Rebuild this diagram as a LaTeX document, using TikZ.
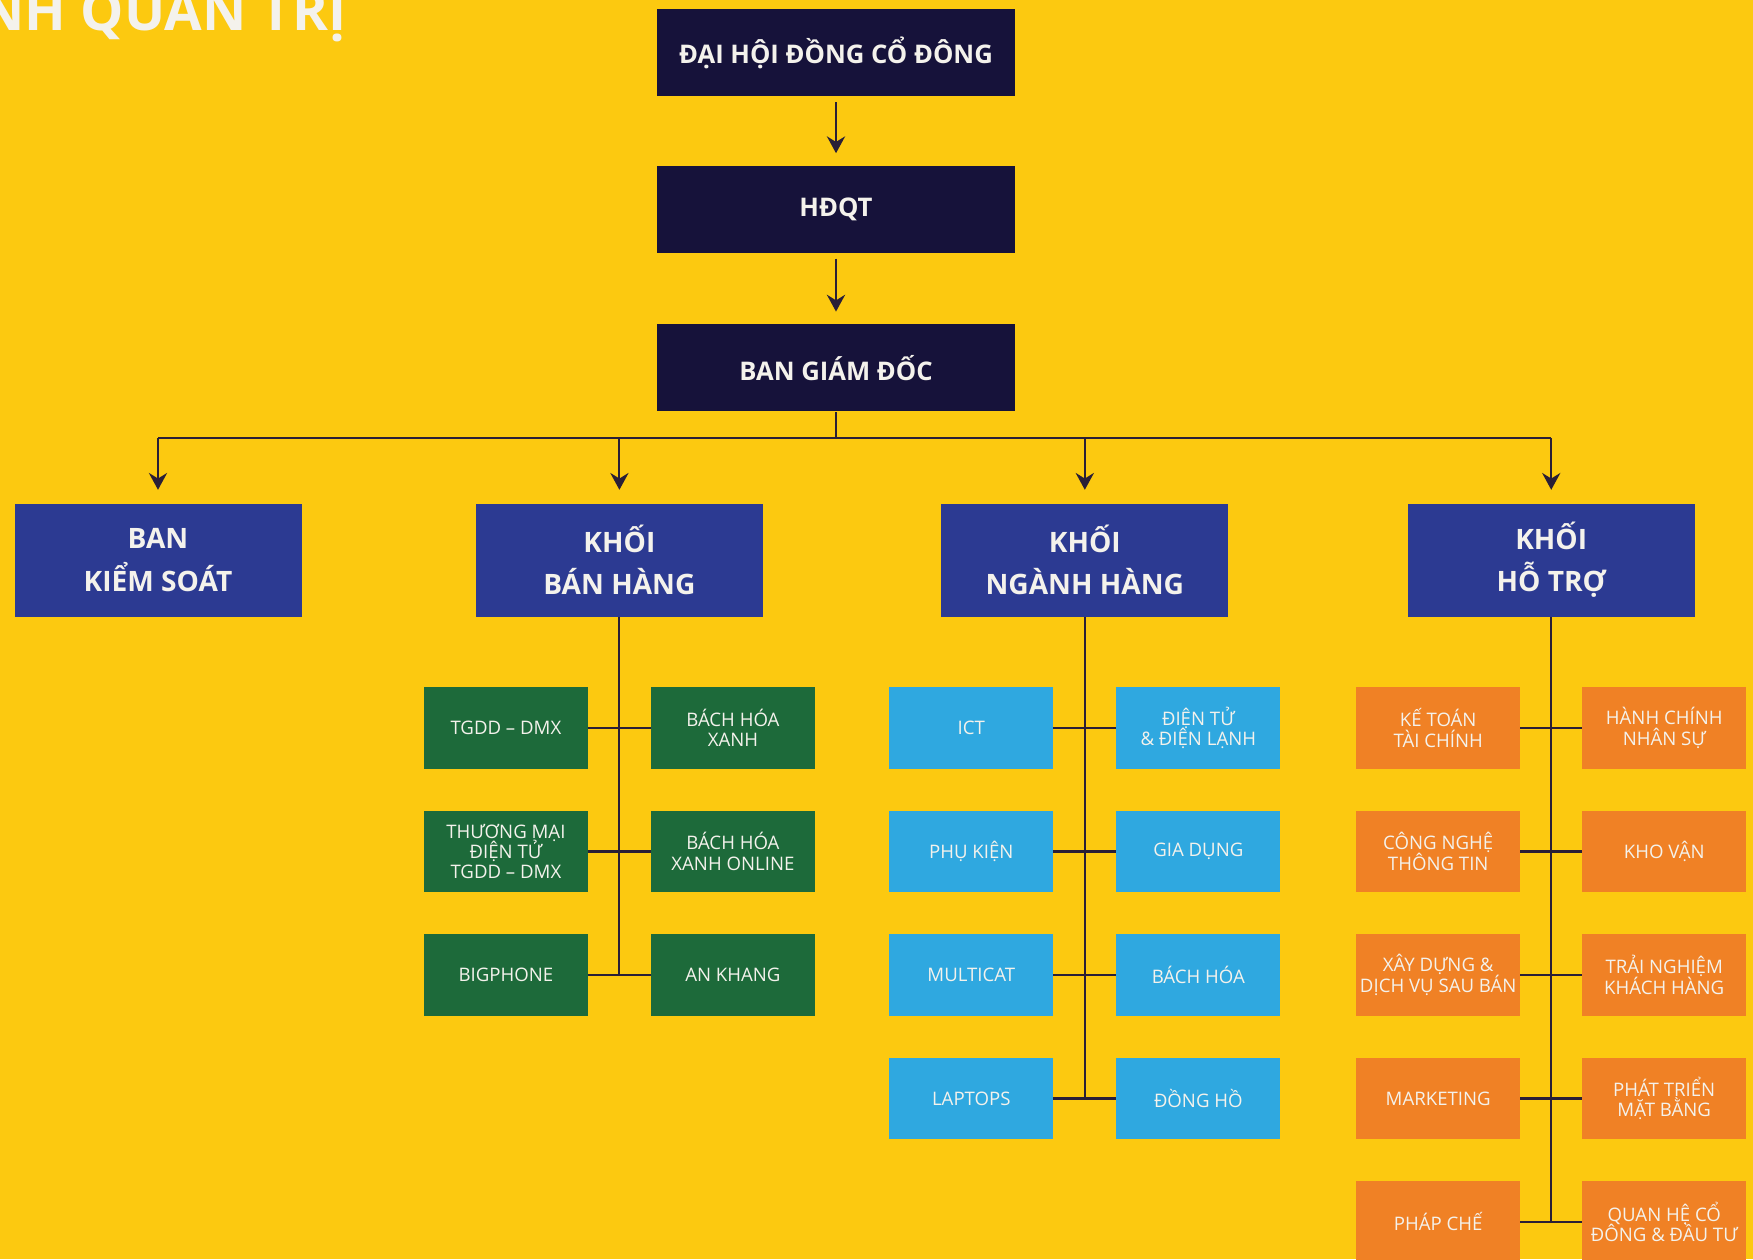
\documentclass[tikz,border=0pt]{standalone}
\usepackage{fontspec}
\setmainfont{Open Sans}
\usepackage{tikz}
\usetikzlibrary{arrows,arrows.meta,positioning}
\definecolor{bgyellow}{HTML}{FCC910}
\definecolor{navy}{HTML}{16123A}
\definecolor{royal}{HTML}{2C3A92}
\definecolor{forest}{HTML}{1D6A3A}
\definecolor{sky}{HTML}{2FA8E0}
\definecolor{tangerine}{HTML}{F08125}
\definecolor{wire}{HTML}{2A1F36}
\definecolor{paper}{HTML}{F4F2EC}
\newcommand{\unitfont}{\fontsize{5.3}{5.8}\selectfont\lineskiplimit=-10pt\relax}
\tikzstyle{head node}=[rectangle, fill=navy, text=paper, inner sep=0pt, minimum width=3.58cm, minimum height=0.87cm, font=\fontsize{7.3}{9}\selectfont\bfseries]
\tikzstyle{block node}=[rectangle, fill=royal, text=paper, align=center, inner sep=0pt, minimum width=2.87cm, minimum height=1.13cm, font=\fontsize{8}{12}\selectfont\bfseries]
\tikzstyle{unit node}=[rectangle, text=paper, align=center, inner sep=0pt, outer sep=0pt, minimum width=1.64cm, minimum height=0.815cm, font=\unitfont]
\tikzstyle{sales node}=[unit node, fill=forest]
\tikzstyle{goods node}=[unit node, fill=sky]
\tikzstyle{support node}=[unit node, fill=tangerine]
\tikzstyle{link}=[color=wire, line width=0.6pt]
\tikzstyle{arrow link}=[link, ->, >={Stealth[length=4.8pt, width=5.2pt, inset=1.6pt]}, shorten >=0.12cm, shorten <=0.05cm]

\begin{document}
\begin{tikzpicture}[node distance=0.42cm]
  \useasboundingbox (0,0) rectangle (17.53,-12.59);
  \clip (0,0) rectangle (17.53,-12.59);
  \fill[bgyellow] (0,0) rectangle (17.53,-12.59);
%
  \node[anchor=base east, inner sep=0pt, text=paper, font=\fontsize{15.5}{18}\selectfont\bfseries] (title) at (3.47,-0.31) {NH QUẢN TRỊ};
%
  \node[head node] (dhcd) at (8.36,-0.53) {ĐẠI HỘI ĐỒNG CỔ ĐÔNG};
  \node[head node, below=0.68cm of dhcd] (hdqt) {HĐQT};
  \node[head node, below=0.70cm of hdqt] (bgd) {BAN GIÁM ĐỐC};
  \coordinate[below=0.26cm of bgd.south] (bus);
%
  \node[block node] (bks) at (1.58,-5.60) {BAN\\KIỂM SOÁT};
  \node[block node, right=1.73cm of bks] (kbh) {KHỐI\\BÁN HÀNG};
  \node[block node, right=1.77cm of kbh] (knh) {KHỐI\\NGÀNH HÀNG};
  \node[block node, right=1.78cm of knh] (kht) {KHỐI\\HỖ TRỢ};
%
  \node[sales node, below left=0.70cm and 0.315cm of kbh.south] (b1) {TGDD -- DMX};
  \node[sales node, below right=0.70cm and 0.315cm of kbh.south] (b2) {BÁCH HÓA\\XANH};
  \node[sales node, below=of b1] (b3) {THƯƠNG MẠI\\ĐIỆN TỬ\\TGDD -- DMX};
  \node[sales node, below=of b2] (b4) {BÁCH HÓA\\XANH ONLINE};
  \node[sales node, below=of b3] (b5) {BIGPHONE};
  \node[sales node, below=of b4] (b6) {AN KHANG};
%
  \node[goods node, below left=0.70cm and 0.315cm of knh.south] (n1) {ICT};
  \node[goods node, below right=0.70cm and 0.315cm of knh.south] (n2) {ĐIỆN TỬ\\\& ĐIỆN LẠNH};
  \node[goods node, below=of n1] (n3) {PHỤ KIỆN};
  \node[goods node, below=of n2] (n4) {GIA DỤNG};
  \node[goods node, below=of n3] (n5) {MULTICAT};
  \node[goods node, below=of n4] (n6) {BÁCH HÓA};
  \node[goods node, below=of n5] (n7) {LAPTOPS};
  \node[goods node, below=of n6] (n8) {ĐỒNG HỒ};
%
  \node[support node, below left=0.70cm and 0.31cm of kht.south] (h1) {KẾ TOÁN\\TÀI CHÍNH};
  \node[support node, below right=0.70cm and 0.31cm of kht.south] (h2) {HÀNH CHÍNH\\NHÂN SỰ};
  \node[support node, below=of h1] (h3) {CÔNG NGHỆ\\THÔNG TIN};
  \node[support node, below=of h2] (h4) {KHO VẬN};
  \node[support node, below=of h3] (h5) {XÂY DỰNG \&\\DỊCH VỤ SAU BÁN};
  \node[support node, below=of h4] (h6) {TRẢI NGHIỆM\\KHÁCH HÀNG};
  \node[support node, below=of h5] (h7) {MARKETING};
  \node[support node, below=of h6] (h8) {PHÁT TRIỂN\\MẶT BẰNG};
  \node[support node, below=of h7] (h9) {PHÁP CHẾ};
  \node[support node, below=of h8] (h10) {QUAN HỆ CỔ\\ĐÔNG \& ĐẦU TƯ};
%
  \path[arrow link] (dhcd) edge (hdqt)
	(hdqt) edge (bgd);
  \draw[link] (bgd) -- (bus);
  \draw[link] (bus -| bks) -- (bus -| kht);
  \path[arrow link, shorten >=0.13cm, shorten <=0pt] (bus -| bks) edge (bks)
	(bus -| kbh) edge (kbh)
	(bus -| knh) edge (knh)
	(bus -| kht) edge (kht);
%
  \draw[link] (kbh) -- (kbh |- b5);
  \path[link] (b1) edge (b2) (b3) edge (b4) (b5) edge (b6);
  \draw[link] (knh) -- (knh |- n7);
  \path[link] (n1) edge (n2) (n3) edge (n4) (n5) edge (n6) (n7) edge (n8);
  \draw[link] (kht) -- (kht |- h9);
  \path[link] (h1) edge (h2) (h3) edge (h4) (h5) edge (h6) (h7) edge (h8) (h9) edge (h10);
%
\end{tikzpicture}
\end{document}
